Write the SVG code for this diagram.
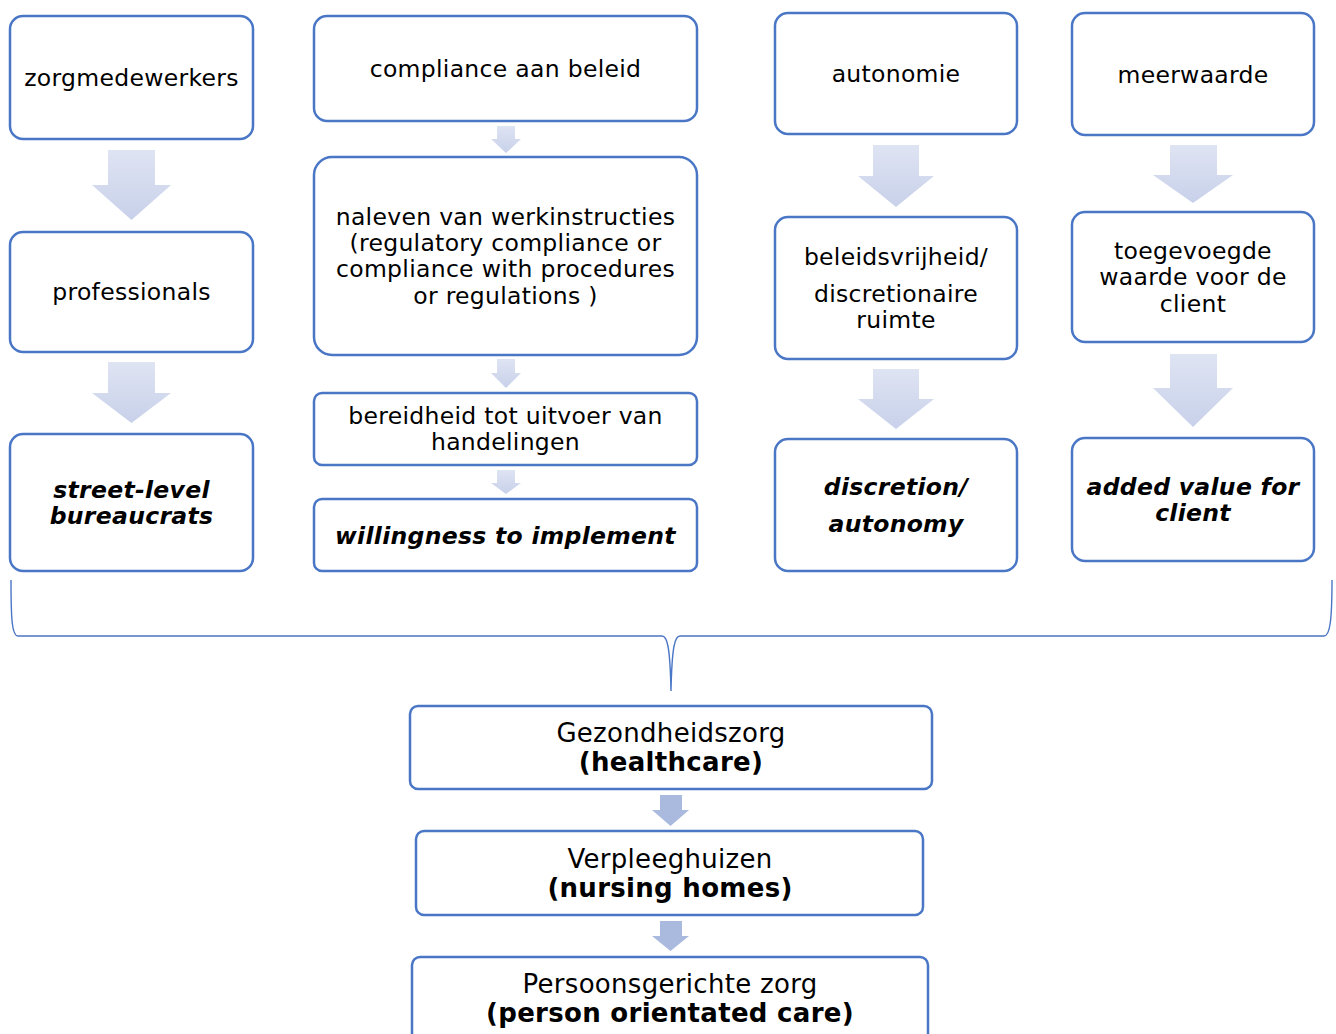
<svg xmlns="http://www.w3.org/2000/svg" width="1336" height="1034" viewBox="0 0 1336 1034">
<defs>
<linearGradient id="ag" x1="0" y1="0" x2="0" y2="1">
<stop offset="0" stop-color="#DFE4F3"/>
<stop offset="1" stop-color="#C8D1EA"/>
</linearGradient>
<style>
.box{fill:#fff;stroke:#4A76C6;stroke-width:2.5}
.t{font-family:"DejaVu Sans","Verdana",sans-serif;font-size:23.5px;letter-spacing:0.3px;fill:#000;text-anchor:middle;dominant-baseline:central}
.bi{font-weight:bold;font-style:italic}
.b{font-weight:bold}
.big{font-size:26px}
.arr{fill:url(#ag)}
.arr2{fill:#AABADF}
.brace{fill:none;stroke:#4A76C6;stroke-width:1.4}
</style>
</defs>
<rect width="1336" height="1034" fill="#fff"/>

<g id="connectors">
<path class="arr" d="M108,150 H155 V185 H171 L131.5,220 L92,185 H108 Z"/>
<path class="arr" d="M108,362 H155 V393 H171 L131.5,423 L92,393 H108 Z"/>
<path class="arr" d="M497,126 H515 V139 H521 L506,153 L491,139 H497 Z"/>
<path class="arr" d="M497,359 H515 V373 H521 L506,388 L491,373 H497 Z"/>
<path class="arr" d="M497,470 H515 V483 H521 L506,494 L491,483 H497 Z"/>
<path class="arr" d="M873,145 H919 V176 H934 L896,207 L858,176 H873 Z"/>
<path class="arr" d="M873,369 H919 V399 H934 L896,429 L858,399 H873 Z"/>
<path class="arr" d="M1170,145 H1217 V175 H1233 L1193,203 L1153,175 H1170 Z"/>
<path class="arr" d="M1170,354 H1217 V388 H1233 L1193,427 L1153,388 H1170 Z"/>
<path class="arr2" d="M660,795 H682 V810 H689 L670.5,826 L652,810 H660 Z"/>
<path class="arr2" d="M660,921 H682 V936 H689 L670.5,951 L652,936 H660 Z"/>
<path class="brace" d="M11,580 C11,620 12,636 18,636 H662 C667,636 670,645 671,691 C672,645 675,636 680,636 H1324 C1330,636 1332,620 1332,580"/>
</g>

<g id="n-zorgmedewerkers"><rect class="box" x="10" y="16" width="243" height="123" rx="13"/><text class="t" x="131.5" y="78">zorgmedewerkers</text></g>
<g id="n-professionals"><rect class="box" x="10" y="232" width="243" height="120" rx="13"/><text class="t" x="131.5" y="292">professionals</text></g>
<g id="n-street"><rect class="box" x="10" y="434" width="243" height="137" rx="13"/><text class="t bi" x="131.5" y="490">street-level</text><text class="t bi" x="131.5" y="516">bureaucrats</text></g>

<g id="n-compliance"><rect class="box" x="314" y="16" width="383" height="105" rx="13"/><text class="t" x="505.5" y="69">compliance aan beleid</text></g>
<g id="n-naleven"><rect class="box" x="314" y="157" width="383" height="198" rx="18"/>
<text class="t" x="505.5" y="217">naleven van werkinstructies</text>
<text class="t" x="505.5" y="243">(regulatory compliance or</text>
<text class="t" x="505.5" y="269">compliance with procedures</text>
<text class="t" x="505.5" y="296">or regulations )</text></g>
<g id="n-bereidheid"><rect class="box" x="314" y="393" width="383" height="72" rx="8"/><text class="t" x="505.5" y="416">bereidheid tot uitvoer van</text><text class="t" x="505.5" y="442">handelingen</text></g>
<g id="n-willingness"><rect class="box" x="314" y="499" width="383" height="72" rx="8"/><text class="t bi" x="505.5" y="536">willingness to implement</text></g>

<g id="n-autonomie"><rect class="box" x="775" y="13" width="242" height="121" rx="13"/><text class="t" x="896" y="74">autonomie</text></g>
<g id="n-beleidsvrijheid"><rect class="box" x="775" y="217" width="242" height="142" rx="13"/><text class="t" x="896" y="257">beleidsvrijheid/</text><text class="t" x="896" y="294">discretionaire</text><text class="t" x="896" y="320">ruimte</text></g>
<g id="n-discretion"><rect class="box" x="775" y="439" width="242" height="132" rx="13"/><text class="t bi" x="896" y="487">discretion/</text><text class="t bi" x="896" y="524">autonomy</text></g>

<g id="n-meerwaarde"><rect class="box" x="1072" y="13" width="242" height="122" rx="13"/><text class="t" x="1193" y="75">meerwaarde</text></g>
<g id="n-toegevoegde"><rect class="box" x="1072" y="212" width="242" height="130" rx="13"/><text class="t" x="1193" y="251">toegevoegde</text><text class="t" x="1193" y="277">waarde voor de</text><text class="t" x="1193" y="304">client</text></g>
<g id="n-added"><rect class="box" x="1072" y="438" width="242" height="123" rx="13"/><text class="t bi" x="1193" y="487">added value for</text><text class="t bi" x="1193" y="513">client</text></g>

<g id="n-gezondheidszorg"><rect class="box" x="410" y="706" width="522" height="83" rx="8"/><text class="t big" x="671" y="733">Gezondheidszorg</text><text class="t big b" x="671" y="762">(healthcare)</text></g>
<g id="n-verpleeghuizen"><rect class="box" x="416" y="831" width="507" height="84" rx="8"/><text class="t big" x="670" y="859">Verpleeghuizen</text><text class="t big b" x="670" y="888">(nursing homes)</text></g>
<g id="n-persoonsgericht"><rect class="box" x="412" y="957" width="516" height="90" rx="8"/><text class="t big" x="670" y="984">Persoonsgerichte zorg</text><text class="t big b" x="670" y="1013">(person orientated care)</text></g>
</svg>
